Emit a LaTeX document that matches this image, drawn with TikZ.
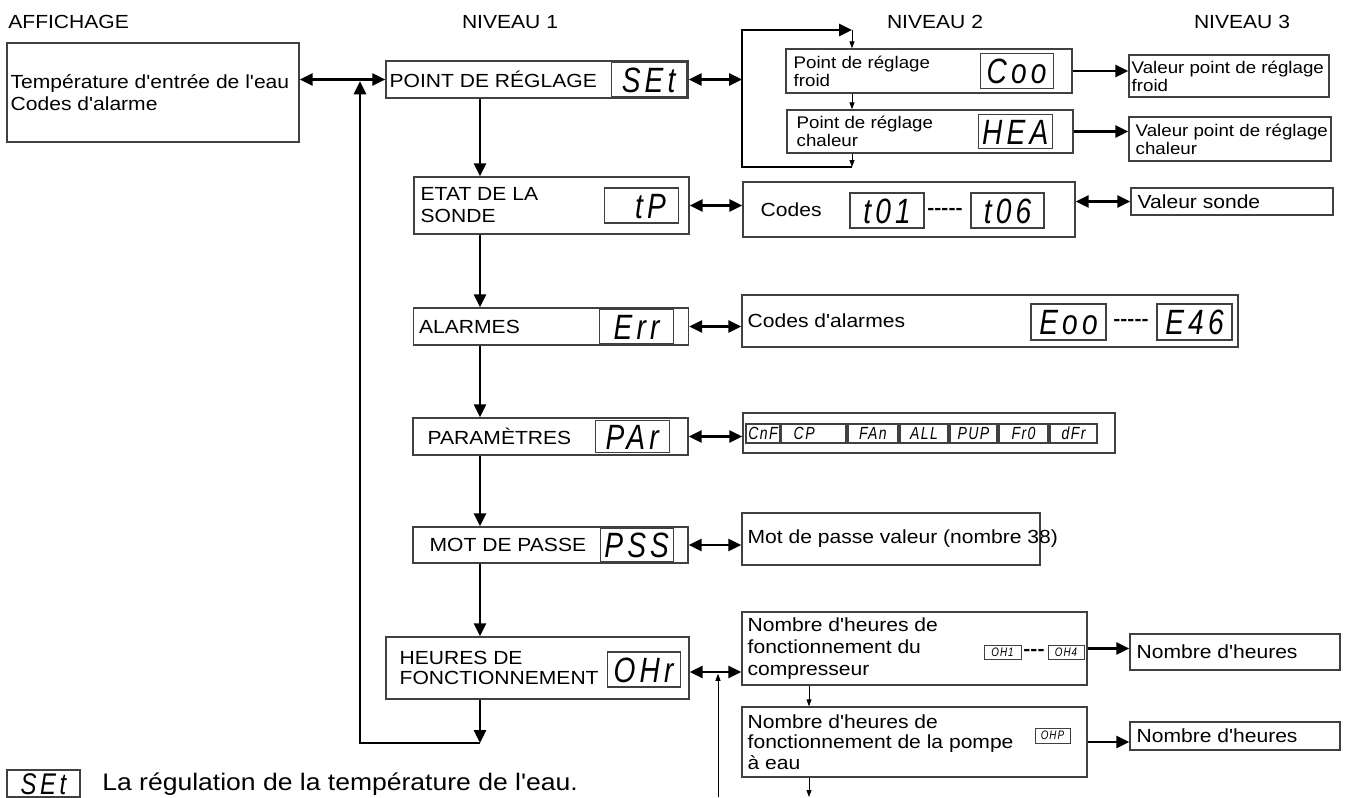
\documentclass[tikz,border=0pt]{standalone}
\usepackage{fontspec}
\newfontfamily\mainf{Liberation Sans}[FakeStretch=1.11]
\newfontfamily\segfont{Liberation Sans}[FakeStretch=0.8,LetterSpace=12]
\newfontfamily\segsmall{Liberation Sans}[FakeStretch=0.8,LetterSpace=8]
\usetikzlibrary{arrows.meta}
\tikzset{
  box/.style={draw=black!75,line width=0.8pt,inner sep=0pt},
  seg/.style={draw=black!75,line width=0.6pt,inner sep=0pt,text height=14.3pt,text depth=0pt,
    font=\segfont\itshape\fontsize{20}{20}\selectfont},
  legseg/.style={seg,text height=12.2pt,font=\segfont\itshape\fontsize{17}{17}\selectfont},
  smallseg/.style={seg,minimum height=3.8mm,text height=7.2pt,font=\segsmall\itshape\fontsize{10}{10}\selectfont},
  tinyseg/.style={seg,line width=0.4pt,text height=5pt,font=\segsmall\itshape\fontsize{7}{7}\selectfont},
  txt/.style={inner sep=0pt,align=left,font=\mainf\fontsize{10.8}{12.5}\selectfont},
  smalltxt/.style={txt,font=\mainf\fontsize{9.6}{10.2}\selectfont},
  legtxt/.style={txt,font=\mainf\fontsize{13.6}{14}\selectfont},
  dashes/.style={inner sep=0pt,font=\mainf\bfseries\fontsize{10.8}{12}\selectfont},
  flow/.style={->,>={Triangle[length=2.6mm,width=2.4mm]},line width=1.6pt},
  dflow/.style={<->,>={Triangle[length=2.6mm,width=2.4mm]},line width=1.6pt},
  tflow/.style={->,>={Triangle[length=1.4mm,width=1mm]},line width=0.5pt}}

\begin{document}
\begin{tikzpicture}[x=0.02cm,y=-0.02cm,font=\mainf]
  \useasboundingbox (0,0) rectangle (1347,798);
  % headers
  \node[txt,anchor=west] (aff) at (8,22) {AFFICHAGE};
  \node[txt] (niv1) at (510,22) {NIVEAU 1};
  \node[txt] (niv2) at (935,22) {NIVEAU 2};
  \node[txt] (niv3) at (1242,22) {NIVEAU 3};
  % affichage
  \node[box,minimum width=58.4mm,minimum height=19.8mm] (disp) at (153,92.5) {};
  \node[txt,anchor=west] (dispt) at ([xshift=0.8mm]disp.west) {Température d'entrée de l'eau\\Codes d'alarme};
  % niveau 1
  \node[box,minimum width=60.4mm,minimum height=7.4mm] (set) at (537,79.5) {};
  \node[txt,anchor=west] (sett) at ([xshift=0.8mm]set.west) {POINT DE RÉGLAGE};
  \node[seg,anchor=east,minimum width=15mm,minimum height=6.8mm] (setd) at ([xshift=-0.4mm]set.east) {SEt};
  \node[box,minimum width=55mm,minimum height=11.4mm] (etat) at (551.5,205.5) {};
  \node[txt,anchor=west] (etatt) at ([xshift=1.4mm]etat.west) {ETAT DE LA\\SONDE};
  \node[seg,anchor=east,minimum width=14.8mm,minimum height=7mm] (etatd) at ([xshift=-2.2mm]etat.east) {\phantom{E}tP};
  \node[box,minimum width=55mm,minimum height=7.4mm] (alarm) at (551,326.5) {};
  \node[txt,anchor=west] (alarmt) at ([xshift=1.2mm]alarm.west) {ALARMES};
  \node[seg,anchor=east,minimum width=14.8mm,minimum height=6.8mm] (alarmd) at ([xshift=-3mm]alarm.east) {Err};
  \node[box,minimum width=55mm,minimum height=7.4mm] (param) at (550.5,436.5) {};
  \node[txt,anchor=west] (paramt) at ([xshift=3mm]param.west) {PARAMÈTRES};
  \node[seg,anchor=east,minimum width=14.8mm,minimum height=6.4mm] (paramd) at ([xshift=-3.8mm]param.east) {PAr};
  \node[box,minimum width=55mm,minimum height=7.2mm] (mdp) at (550.5,545) {};
  \node[txt,anchor=west] (mdpt) at ([xshift=3.4mm]mdp.west) {MOT DE PASSE};
  \node[seg,anchor=east,minimum width=14.6mm,minimum height=6.8mm] (mdpd) at ([xshift=-3mm]mdp.east) {PSS};
  \node[box,minimum width=60.6mm,minimum height=12.4mm] (heures) at (537.5,668) {};
  \node[txt,anchor=west,font=\mainf\fontsize{10.8}{11.4}\selectfont] (heurest) at ([xshift=2.8mm]heures.west) {HEURES DE\\FONCTIONNEMENT};
  \node[seg,anchor=east,minimum width=14.6mm,minimum height=7mm] (heuresd) at ([xshift=-1.8mm,yshift=-0.3mm]heures.east) {OHr};
  % niveau 2
  \node[box,minimum width=57.2mm,minimum height=8.8mm] (froid) at (929,71) {};
  \node[smalltxt,anchor=west] (froidt) at ([xshift=1.6mm]froid.west) {Point de réglage\\froid};
  \node[seg,anchor=east,minimum width=14.6mm,minimum height=7mm] (froidd) at ([xshift=-3.8mm]froid.east) {Coo};
  \node[box,minimum width=57.2mm,minimum height=8.6mm] (chal) at (930,131.5) {};
  \node[smalltxt,anchor=west] (chalt) at ([xshift=2mm]chal.west) {Point de réglage\\chaleur};
  \node[seg,anchor=east,minimum width=14.8mm,minimum height=6.8mm] (chald) at ([xshift=-4.2mm]chal.east) {HEA};
  \node[box,minimum width=66.4mm,minimum height=11mm] (codes) at (909,209.5) {};
  \node[txt,anchor=west] (codest) at ([xshift=3.6mm]codes.west) {Codes};
  \node[seg,minimum width=14.8mm,minimum height=7mm] (t01) at (887,210.5) {t01};
  \node[dashes] (dash1) at (945,211) {-----};
  \node[seg,minimum width=14.6mm,minimum height=7mm] (t06) at (1007.5,210.5) {t06};
  \node[box,minimum width=99.2mm,minimum height=10.4mm] (alcodes) at (990,321) {};
  \node[txt,anchor=west] (alcodest) at ([xshift=1.2mm]alcodes.west) {Codes d'alarmes};
  \node[seg,minimum width=15mm,minimum height=7.2mm] (eoo) at (1068.5,322) {Eoo};
  \node[dashes] (dash2) at (1131,322) {-----};
  \node[seg,minimum width=15mm,minimum height=7.2mm] (e46) at (1194.5,322) {E46};
  \node[box,minimum width=74.4mm,minimum height=8mm] (parlist) at (929,433) {};
  \node[smallseg,minimum width=6.8mm] (cnf) at (763,433.5) {CnF};
  \node[smallseg,minimum width=13mm] (cp) at (813.5,433.5) {CP\phantom{AL}};
  \node[smallseg,minimum width=10mm] (fan) at (873,433.5) {FAn};
  \node[smallseg,minimum width=9.6mm] (all) at (924,433.5) {ALL};
  \node[smallseg,minimum width=9.4mm] (pup) at (973.5,433.5) {PUP};
  \node[smallseg,minimum width=9.8mm] (fro) at (1023.5,433.5) {Fr0};
  \node[smallseg,minimum width=9.4mm] (dfr) at (1073.5,433.5) {dFr};
  \node[box,minimum width=59.6mm,minimum height=10.4mm] (mdpval) at (891,539) {};
  \node[txt,anchor=west] (mdpvalt) at ([xshift=1.2mm]mdpval.west) {Mot de passe valeur (nombre 38)};
  \node[box,minimum width=69mm,minimum height=14.6mm] (comp) at (914.5,648.5) {};
  \node[txt,anchor=west] (compt) at ([xshift=1.2mm]comp.west) {Nombre d'heures de\\fonctionnement du\\compresseur};
  \node[tinyseg,minimum width=7.4mm,minimum height=2.8mm] (oh1) at (1002.5,652) {OH1};
  \node[dashes] (dash3) at (1034,652) {---};
  \node[tinyseg,minimum width=7.2mm,minimum height=2.8mm] (oh4) at (1066,652) {OH4};
  \node[box,minimum width=69mm,minimum height=14mm] (pompe) at (914.5,742) {};
  \node[txt,anchor=west,font=\mainf\fontsize{10.8}{11.6}\selectfont] (pompet) at ([xshift=1.2mm]pompe.west) {Nombre d'heures de\\fonctionnement de la pompe\\à eau};
  \node[tinyseg,minimum width=7mm,minimum height=3mm] (ohp) at (1052.5,735.5) {OHP};
  % niveau 3
  \node[box,minimum width=40mm,minimum height=8.4mm] (vfroid) at (1229,76) {};
  \node[smalltxt,anchor=west] (vfroidt) at ([xshift=0.6mm]vfroid.west) {Valeur point de réglage\\froid};
  \node[box,minimum width=40.4mm,minimum height=8.8mm] (vchal) at (1230,139) {};
  \node[smalltxt,anchor=west] (vchalt) at ([xshift=1.4mm]vchal.west) {Valeur point de réglage\\chaleur};
  \node[box,minimum width=40.4mm,minimum height=5.4mm] (vsonde) at (1232,201.5) {};
  \node[txt,anchor=west] (vsondet) at ([xshift=1.4mm]vsonde.west) {Valeur sonde};
  \node[box,minimum width=42mm,minimum height=7.2mm] (nbh1) at (1235,652) {};
  \node[txt,anchor=west] (nbh1t) at ([xshift=1.4mm]nbh1.west) {Nombre d'heures};
  \node[box,minimum width=42mm,minimum height=5.6mm] (nbh2) at (1235,736) {};
  \node[txt,anchor=west] (nbh2t) at ([xshift=1.4mm]nbh2.west) {Nombre d'heures};
  % legende
  \node[legseg,minimum width=14.6mm,minimum height=5.4mm] (leg) at (43.5,783.5) {SEt};
  \node[legtxt,anchor=west] (legt) at (102,784) {La régulation de la température de l'eau.};
  % helper points
  \coordinate (ax) at (480,0);
  \coordinate (lb) at (480,743);
  \coordinate (lc) at (360,743);
  \coordinate (bt) at (742,30);
  \coordinate (bb) at (742,167);
  \coordinate (px) at (852,0);
  \coordinate (cx) at (809,797);
  \coordinate (hx) at (718,797);
  \coordinate (hy) at ([yshift=-0.8mm]heures.east);
  % connectors niveau 1
  \draw[dflow] (disp.east |- set.west) -- (set.west);
  \draw[flow] (set.south -| ax) -- (etat.north -| ax);
  \draw[flow] (etat.south -| ax) -- (alarm.north -| ax);
  \draw[flow] (alarm.south -| ax) -- (param.north -| ax);
  \draw[flow] (param.south -| ax) -- (mdp.north -| ax);
  \draw[flow] (mdp.south -| ax) -- (heures.north -| ax);
  \draw[flow] (heures.south -| ax) -- (lb);
  \draw[flow,shorten >=1pt] (lb) -- (lc) -- (lc |- set.west);
  % connectors niveau 2
  \draw[dflow] (set.east) -- (set.east -| bt);
  \draw[flow] (px |- bb) -- (bb) -- (bt) -- (px |- bt);
  \draw[tflow] (px |- bt) -- (px |- froid.north);
  \draw[tflow] (px |- froid.south) -- (px |- chal.north);
  \draw[tflow] (px |- chal.south) -- (px |- bb);
  \draw[dflow] (etat.east) -- (etat.east -| codes.west);
  \draw[dflow] (alarm.east) -- (alarm.east -| alcodes.west);
  \draw[dflow] (param.east) -- (param.east -| parlist.west);
  \draw[dflow] (mdp.east) -- (mdp.east -| mdpval.west);
  \draw[dflow] (hy) -- (hy -| comp.west);
  \draw[tflow,shorten >=1pt] (hx) -- (hx |- hy);
  \draw[tflow] (comp.south -| cx) -- (pompe.north -| cx);
  \draw[tflow] (pompe.south -| cx) -- (cx);
  % connectors niveau 3
  \draw[flow] (froid.east) -- (froid.east -| vfroid.west);
  \draw[flow] (chal.east) -- (chal.east -| vchal.west);
  \draw[dflow] (codes.east |- vsonde.west) -- (vsonde.west);
  \draw[flow] (comp.east) -- (comp.east -| nbh1.west);
  \draw[flow] (pompe.east) -- (pompe.east -| nbh2.west);
\end{tikzpicture}
\end{document}
